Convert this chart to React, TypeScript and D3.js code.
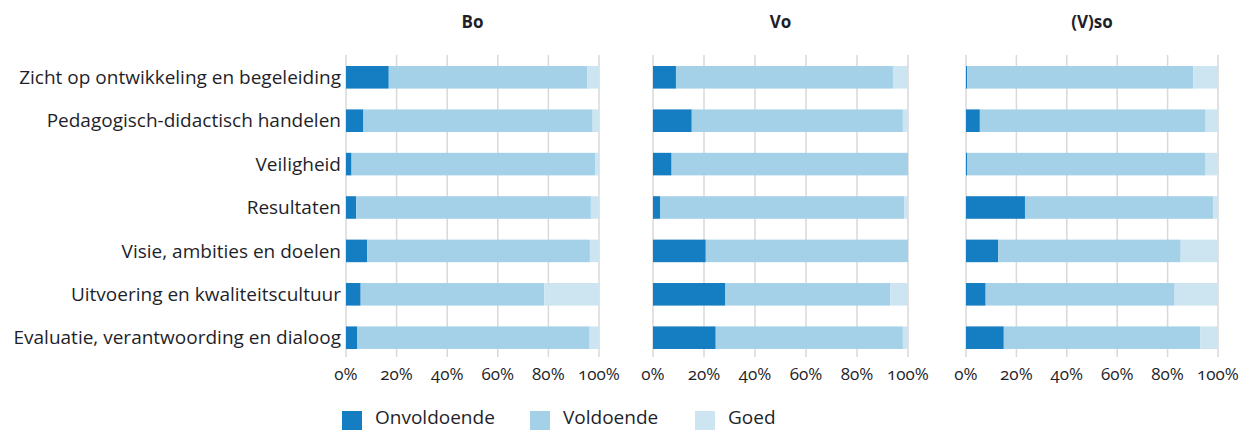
import React, { useEffect } from "react";
import * as d3 from "d3";

// categories (top to bottom)
const categories = [
  "Zicht op ontwikkeling en begeleiding",
  "Pedagogisch-didactisch handelen",
  "Veiligheid",
  "Resultaten",
  "Visie, ambities en doelen",
  "Uitvoering en kwaliteitscultuur",
  "Evaluatie, verantwoording en dialoog",
];

const panels = ["Bo", "Vo", "(V)so"];
const seriesNames = ["Onvoldoende", "Voldoende", "Goed"];
const tickValues = [0, 20, 40, 60, 80, 100];

// percentages per panel, one value per category
const boOnvoldoende = [16.9, 6.9, 2.2, 4.0, 8.4, 5.8, 4.5];
const boVoldoende = [78.4, 90.6, 96.4, 92.8, 88.0, 72.6, 91.8];
const boGoed = [4.7, 2.5, 1.4, 3.2, 3.6, 21.6, 3.7];

const voOnvoldoende = [9.0, 15.2, 7.3, 2.9, 20.7, 28.4, 24.6];
const voVoldoende = [85.1, 82.8, 92.7, 95.7, 79.3, 64.7, 73.4];
const voGoed = [5.9, 2.0, 0, 1.4, 0, 6.9, 2.0];

const vsoOnvoldoende = [0.5, 5.5, 0.4, 23.4, 12.8, 7.8, 15.0];
const vsoVoldoende = [89.7, 89.6, 94.7, 74.6, 72.4, 75.0, 78.0];
const vsoGoed = [9.8, 4.9, 4.9, 2.0, 14.8, 17.2, 7.0];

const panelData = [
  [boOnvoldoende, boVoldoende, boGoed],
  [voOnvoldoende, voVoldoende, voGoed],
  [vsoOnvoldoende, vsoVoldoende, vsoGoed],
];

const colors = ["#157dc2", "#a5d1e8", "#cde4f1"];
const font = "'Open Sans', 'Noto Sans', sans-serif";
const textColor = "#1f1f2a";

const panelRanges = [
  [346, 599],
  [653, 908],
  [966, 1218],
];

export default function App() {
  useEffect(() => {
    document.body.style.margin = "0";
  }, []);

  const width = 1254;
  const height = 430;

  const y = d3
    .scaleBand<string>()
    .domain(categories)
    .range([55.6, 359.4])
    .paddingInner(0.48)
    .paddingOuter(0.24);

  return (
    <svg width={width} height={height} style={{ display: "block" }} fontFamily={font}>
      {/* category labels */}
      {categories.map((c) => (
        <text
          key={c}
          x={341}
          y={(y(c) ?? 0) + y.bandwidth() / 2}
          dy="0.35em"
          textAnchor="end"
          fontSize={19}
          fill={textColor}
        >
          {c}
        </text>
      ))}

      {panels.map((p, pi) => {
        const x = d3.scaleLinear().domain([0, 100]).range(panelRanges[pi]);
        const [onv, vol, goed] = panelData[pi];
        const rows = categories.map((c, i) => ({ c, v: [onv[i], vol[i], goed[i]] }));
        const series = d3
          .stack<{ c: string; v: number[] }, number>()
          .keys([0, 1, 2])
          .value((d, k) => d.v[k])(rows);
        return (
          <g key={p}>
            <text
              x={(panelRanges[pi][0] + panelRanges[pi][1]) / 2}
              y={28}
              textAnchor="middle"
              fontSize={17}
              fontWeight="bold"
              fill={textColor}
            >
              {p}
            </text>
            {tickValues.map((t) => (
              <line
                key={t}
                x1={x(t)}
                x2={x(t)}
                y1={55}
                y2={357}
                stroke="#d9d9d9"
                strokeWidth={1.5}
              />
            ))}
            {series.map((s, si) =>
              s.map((d) => (
                <rect
                  key={si + d.data.c}
                  x={x(d[0])}
                  y={y(d.data.c)}
                  width={Math.max(0, x(d[1]) - x(d[0]))}
                  height={y.bandwidth()}
                  fill={colors[si]}
                />
              ))
            )}
            {tickValues.map((t) => (
              <text
                key={"l" + t}
                x={x(t)}
                y={380}
                textAnchor="middle"
                fontSize={17}
                fill={textColor}
                style={{ fontVariantNumeric: "oldstyle-nums" }}
              >
                {t}%
              </text>
            ))}
          </g>
        );
      })}

      {/* legend */}
      {seriesNames.map((n, i) => {
        const lx = [342, 530, 695][i];
        return (
          <g key={n}>
            <rect x={lx} y={411} width={20} height={20} fill={colors[i]} />
            <text x={lx + 33} y={424} fontSize={19} fill={textColor}>
              {n}
            </text>
          </g>
        );
      })}
    </svg>
  );
}
